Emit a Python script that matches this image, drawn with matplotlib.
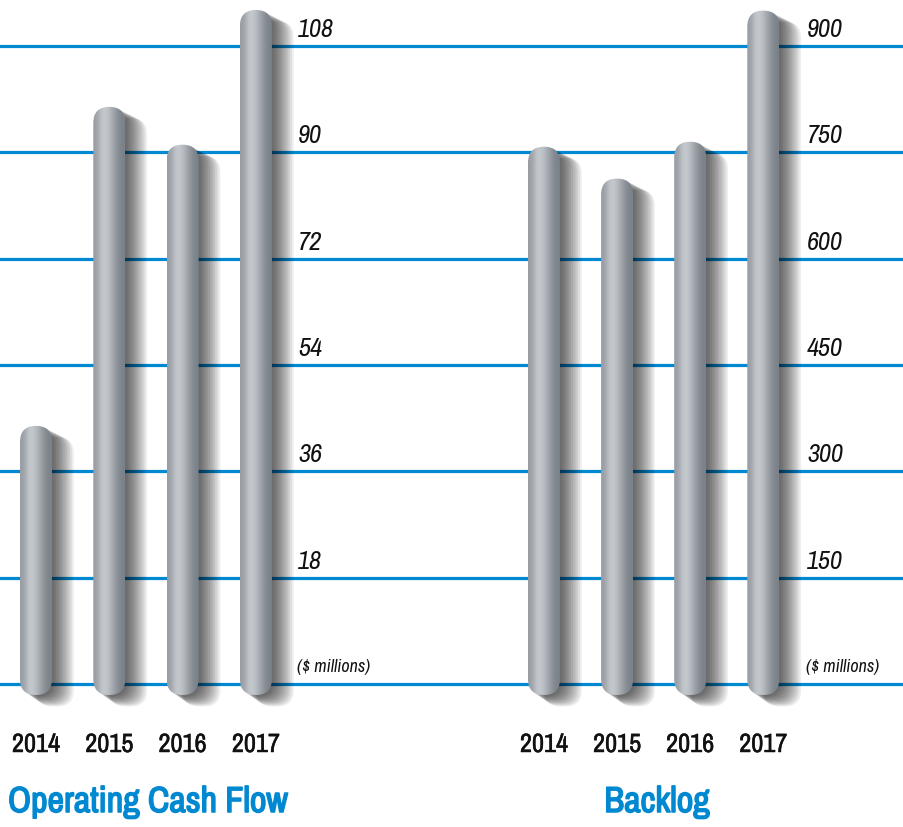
import numpy as np
import matplotlib
matplotlib.use('Agg')
from matplotlib import pyplot as plt
from matplotlib import font_manager
from matplotlib.patches import FancyBboxPatch
from matplotlib.transforms import offset_copy
from matplotlib.colors import LinearSegmentedColormap
import matplotlib.patheffects as pe

years = ['2014', '2015', '2016', '2017']
cash_flow = [43.7, 97.7, 91.3, 114.1]
backlog = [758, 713, 765, 950]
cash_ticks = [18, 36, 54, 72, 90, 108]
backlog_ticks = [150, 300, 450, 600, 750, 900]

BLUE = '#0089d1'

# look for a narrow face, otherwise fall back to Roboto
fl = font_manager.fontManager.ttflist
names = sorted({f.name for f in fl})
narrow = [n for n in names if 'Condensed' in n or 'Narrow' in n]
FONT = narrow[:1] + ['Roboto', 'DejaVu Sans']
plt.rcParams['font.family'] = FONT


def is_bold(f):
    w = f.weight
    if isinstance(w, str):
        return w in ('bold', 'heavy', 'black', 'semibold', 'demibold', 'extra bold')
    return w >= 600


bold_files = [f.fname for f in fl if f.name == FONT[0] and f.style == 'normal' and is_bold(f)]
if bold_files:
    title_font = dict(fontproperties=font_manager.FontProperties(fname=bold_files[0], size=26))
    title_fx = []
else:
    title_font = dict(fontsize=26, fontweight='bold')
    title_fx = [pe.withStroke(linewidth=1.1, foreground=BLUE)]

W, H = 904, 828
fig = plt.figure(figsize=(W / 100, H / 100), dpi=100)

zero_px = 685        # pixel row of value 0 (from top)
step_px = 106.33     # pixels per tick step
ax_bottom_px = 710
bar_px = 32
bar_grad = np.array([[0.58, 0.64, 0.76, 0.80, 0.77, 0.70, 0.61, 0.53, 0.47, 0.44]])
gray = LinearSegmentedColormap.from_list('g', ['#5f666e', '#cfd3d8'])


def panel(x0_px, x1_px, first_px, spacing_px, values, ticks, label_px, title, title_x, title_ha):
    ax = fig.add_axes([x0_px / W, (H - ax_bottom_px) / H, (x1_px - x0_px) / W, ax_bottom_px / H])
    ppu = step_px / (ticks[1] - ticks[0])
    ax.set_ylim(-(ax_bottom_px - zero_px) / ppu, zero_px / ppu)
    ax.set_xlim((x0_px - first_px) / spacing_px, (x1_px - first_px) / spacing_px)
    ax.axis('off')

    for t in [0] + ticks:
        ax.axhline(t, color=BLUE, lw=2.3, zorder=1)

    xu = 1 / spacing_px          # data x per pixel
    yu = 1 / ppu                 # data y per pixel
    aspect = yu / xu
    bw = bar_px * xu
    bottom = -11 * yu
    for i, v in enumerate(values):
        left = i - bw / 2
        h = v - bottom
        # soft shadow, down and to the right
        for k in range(12):
            off = 2 + k * 1.3
            grow = k * 0.5
            sh = FancyBboxPatch((left + off * xu, bottom - off * 0.7 * yu), bw + grow * xu, h,
                                boxstyle='round,pad=0,rounding_size=%f' % (bw / 2),
                                mutation_aspect=aspect, fc='black', ec='none',
                                alpha=0.065, zorder=2, clip_on=False)
            ax.add_patch(sh)
        cap = FancyBboxPatch((left, bottom), bw, h,
                             boxstyle='round,pad=0,rounding_size=%f' % (bw / 2),
                             mutation_aspect=aspect, fc='none', ec='none', zorder=3,
                             clip_on=False)
        ax.add_patch(cap)
        im = ax.imshow(bar_grad, cmap=gray, vmin=0.3, vmax=0.85, aspect='auto',
                       extent=(left, left + bw, bottom, v), zorder=3,
                       interpolation='bicubic')
        im.set_clip_path(cap)

    lx = (label_px - first_px) / spacing_px
    lab_tr = offset_copy(ax.transData, fig=fig, y=10 * 0.72, units='points')
    for t in ticks:
        ax.text(lx, t, str(t), transform=lab_tr, fontsize=19, style='italic',
                fontweight='light', ha='left', va='baseline', color='#111111')
    mil_tr = offset_copy(ax.transData, fig=fig, x=-1, y=13 * 0.72, units='points')
    ax.text(lx, 0, '($ millions)', transform=mil_tr, fontsize=13, style='italic',
            fontweight='light', ha='left', va='baseline', color='#111111')

    yr_tr = offset_copy(ax.transData, fig=fig, y=-68 * 0.72, units='points')
    for i, yr in enumerate(years):
        ax.text(i, 0, yr, transform=yr_tr, fontsize=19, ha='center', va='baseline',
                color='#111111',
                path_effects=[pe.withStroke(linewidth=0.35, foreground='#111111')])

    fig.text(title_x / W, (H - 813) / H, title, color=BLUE, ha=title_ha,
             va='baseline', path_effects=title_fx, **title_font)
    return ax


panel(0, 452, 36, 73.3, cash_flow, cash_ticks, 298, 'Operating Cash Flow', 8, 'left')
panel(452, 904, 544, 73.1, backlog, backlog_ticks, 807, 'Backlog', 657, 'center')

fig.savefig('out.png', dpi=100, facecolor='white')
